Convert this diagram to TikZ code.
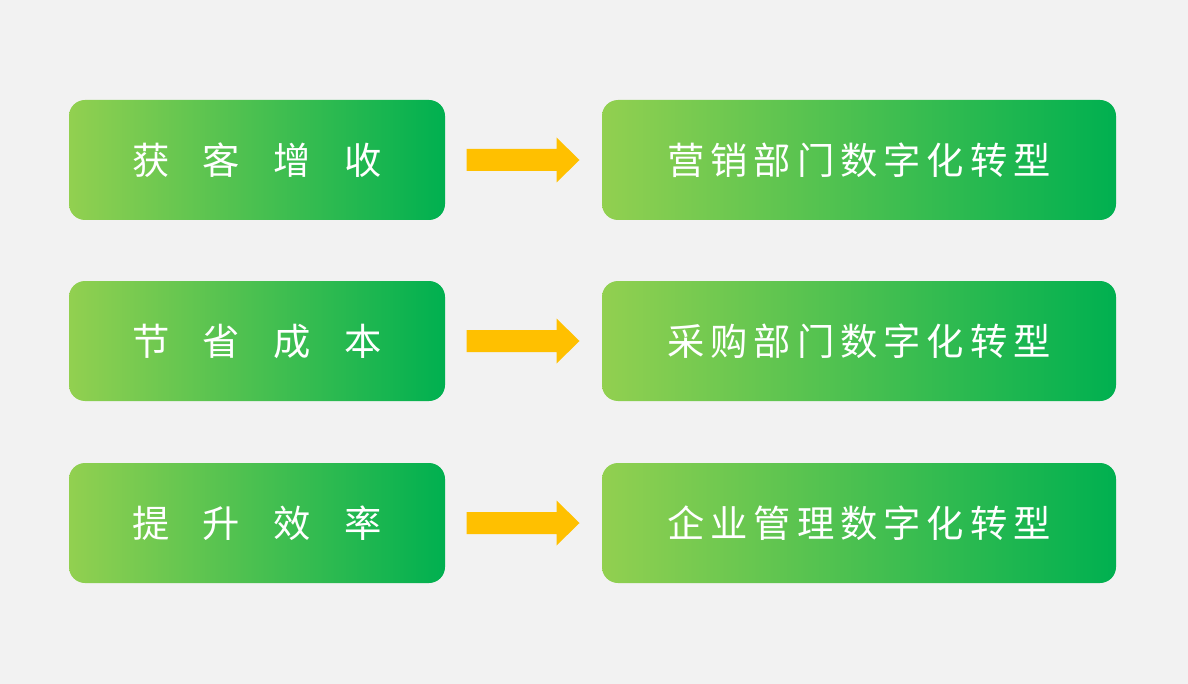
\documentclass[tikz,border=0pt]{standalone}
\usepackage{fontspec}
\newfontfamily\cjk{Noto Sans CJK SC}
\usetikzlibrary{calc}

\definecolor{bgc}{HTML}{F2F2F2}
\definecolor{lightg}{HTML}{92D050}
\definecolor{darkg}{HTML}{00B050}
\definecolor{arrowc}{HTML}{FFC000}

\tikzset{
  greenbox/.style={rectangle, rounded corners=16*0.75pt, left color=lightg, right color=darkg, draw=none, minimum height=120*0.75pt, text=white, font=\cjk\fontsize{28}{30}\selectfont, inner sep=0pt},
  shortbox/.style={greenbox, minimum width=376*0.75pt},
  longbox/.style={greenbox, minimum width=514*0.75pt},
}

% wide gaps for the left labels, narrow for the right ones
\newcommand{\widegap}{\hspace{25pt}}
\newcommand{\narrowgap}{\hspace{4.5pt}}

\begin{document}
\begin{tikzpicture}[x=0.75pt, y=-0.75pt]

\fill[bgc] (0,0) rectangle (1188,684);
\useasboundingbox (0,0) rectangle (1188,684);

\node at (257,160) [shortbox] (gain) {获\widegap 客\widegap 增\widegap 收};
\node at (257,341) [shortbox] (cost) {节\widegap 省\widegap 成\widegap 本};
\node at (257,523) [shortbox] (eff)  {提\widegap 升\widegap 效\widegap 率};

\node at (859,160) [longbox] (mkt) {营\narrowgap 销\narrowgap 部\narrowgap 门\narrowgap 数\narrowgap 字\narrowgap 化\narrowgap 转\narrowgap 型};
\node at (859,341) [longbox] (buy) {采\narrowgap 购\narrowgap 部\narrowgap 门\narrowgap 数\narrowgap 字\narrowgap 化\narrowgap 转\narrowgap 型};
\node at (859,523) [longbox] (mgt) {企\narrowgap 业\narrowgap 管\narrowgap 理\narrowgap 数\narrowgap 字\narrowgap 化\narrowgap 转\narrowgap 型};

%% yellow arrows between the boxes
\foreach \a/\b in {gain/mkt, cost/buy, eff/mgt} {
	\coordinate (m) at ($(\a.east)!0.5!(\b.west)$);
	\fill[arrowc] ($(m)+(-57,-11)$) -- ++(90,0) -- ++(0,-11.5) -- ++(23,22.5) -- ++(-23,22.5) -- ++(0,-11.5) -- ++(-90,0) -- cycle;
}

\end{tikzpicture}
\end{document}
